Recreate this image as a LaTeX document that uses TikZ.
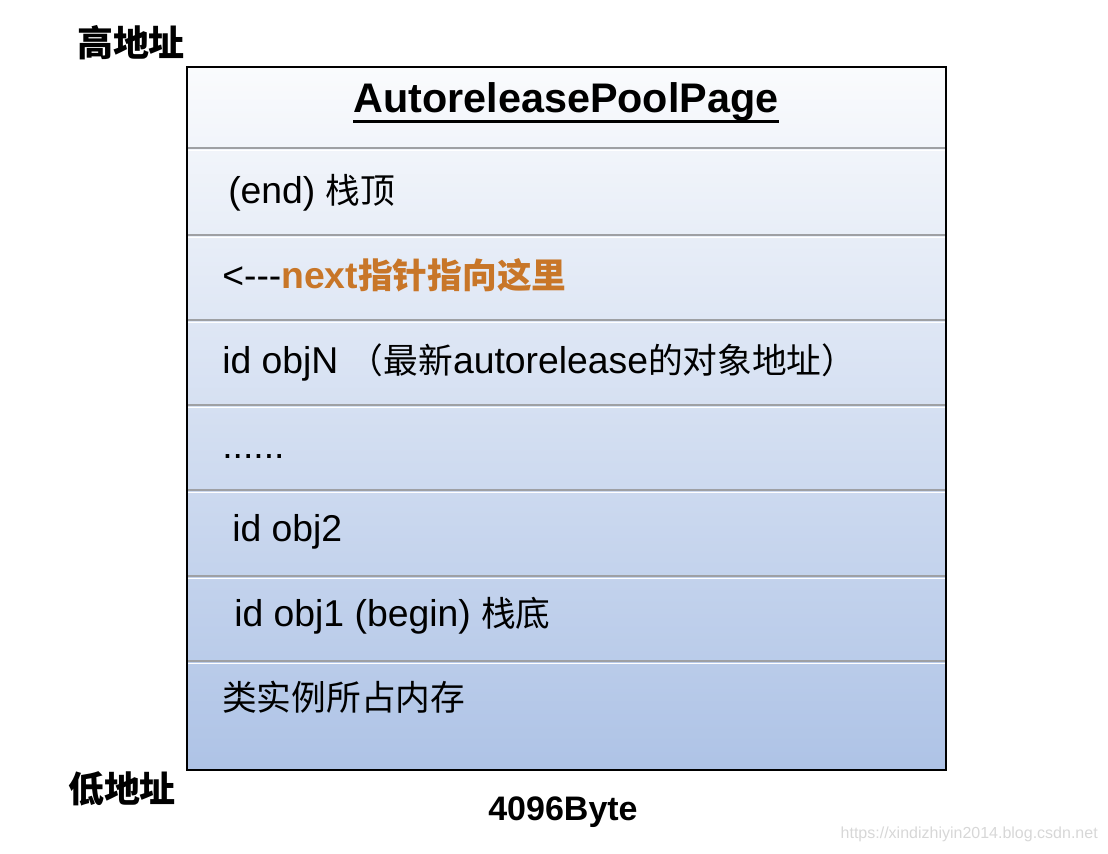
\documentclass[tikz,border=0pt]{standalone}
\usepackage{fontspec}
\setmainfont{Liberation Sans}
\newfontfamily\cjk{Noto Sans CJK SC}[Scale=0.93]
\usetikzlibrary{positioning,calc}
\definecolor{pagetop}{RGB}{250,251,253}
\definecolor{pagebot}{RGB}{174,195,230}
\definecolor{nextorange}{RGB}{200,118,40}
\definecolor{rowline}{RGB}{158,160,164}
\definecolor{markgray}{RGB}{215,215,215}

\begin{document}
\begin{tikzpicture}[x=0.75pt,y=-0.75pt,
    rowtext/.style={anchor=base west,inner sep=0pt,font=\fontsize{28}{32}\selectfont},
    addr/.style={inner sep=0pt,font=\cjk\bfseries\fontsize{29}{34}\selectfont}]
    % AutoreleasePoolPage memory layout
    \useasboundingbox (0,0) rectangle (1108,854);
    \shade[top color=pagetop,bottom color=pagebot] (187,67) rectangle (946,770);
    \foreach \y in {148,235,320,405,490,576,661} {
        \draw[rowline,line width=1.5pt] (187,\y) -- (946,\y);
        \draw[white,line width=1.2pt] (187,\y+2.5) -- (946,\y+2.5);
    }
    \draw[line width=2.2pt] (187,67) rectangle (946,770);

    \node[inner sep=0pt,font=\bfseries\fontsize{31}{36}\selectfont] (title) at (566,102) {AutoreleasePoolPage};
    \draw[line width=2pt] ($(title.base west)+(0,9)$) -- ($(title.base east)+(0,9)$);
    \node[rowtext] (endrow) at (228,203) {(end) {\cjk 栈顶}};
    \node[rowtext] (nextrow) at (222,288) {<{-}{-}{-}{\color{nextorange}\bfseries next\cjk 指针指向这里}};
    \node[rowtext] (objn) at (222,373) {id objN {\cjk （最新}autorelease{\cjk 的对象地址）}};
    \node[rowtext] (dots) at (222,458) {......};
    \node[rowtext] (objtwo) at (232,541) {id obj2};
    \node[rowtext] (objone) at (234,626) {id obj1 (begin) {\cjk 栈底}};
    \node[rowtext] (classmem) at (222,710) {\cjk 类实例所占内存};

    \node[addr] (high) at (131,43) {高地址};
    \node[addr] (low) at (122,789) {低地址};
    \node[inner sep=0pt,font=\bfseries\fontsize{25.5}{30}\selectfont] (size) at (563,812) {4096Byte};
    \node[inner sep=0pt,anchor=east,text=markgray,font=\fontsize{12}{14}\selectfont] (mark) at (1098,834) {https://xindizhiyin2014.blog.csdn.net};
\end{tikzpicture}
\end{document}
